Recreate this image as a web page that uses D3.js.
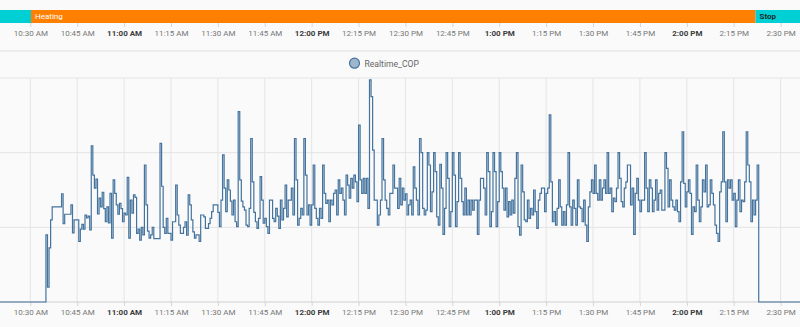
<!DOCTYPE html>
<html>
<head>
<meta charset="utf-8">
<script src="https://cdn.jsdelivr.net/npm/d3@7"></script>
<style>
  html, body { margin: 0; padding: 0; background: #fafafa; }
  svg { display: block; font-family: Roboto, "Noto Sans", sans-serif; }
</style>
</head>
<body>
<svg id="chart" width="800" height="327"></svg>
<script>
// Realtime COP readings, one every 30 seconds starting at copStart
const copStart = "10:20:00";
const copStepSeconds = 30;
const copValues = [
  0, 0, 0, 0, 0, 0, 0, 0, 0, 0,
  0, 0, 0, 0, 0, 0, 0, 0, 0, 0,
  0, 0, 0, 0, 0, 0, 0, 0, 0, 0,
  1.8, 0.4, 1.45, 2.2, 2.55, 2.55, 2.55, 2.55, 2.55, 2.55,
  2.9, 2.1, 2.35, 2.35, 2.35, 2.35, 2.6, 1.85, 2.2, 2.2,
  2.2, 1.62, 1.95, 2.08, 1.95, 2.33, 2.25, 2.3, 1.93, 4.18,
  3.4, 3.05, 3.29, 2.36, 2.78, 2.55, 2.94, 2.5, 2.15, 2.55,
  2.12, 2.91, 1.71, 3.27, 2.91, 2.6, 2.35, 2.64, 2.5, 2.15,
  2.38, 2.33, 3.34, 1.71, 2.73, 2.38, 2.87, 2.8, 1.84, 1.95,
  1.66, 2.0, 1.8, 3.67, 2.6, 1.9, 1.71, 1.8, 2.0, 1.7,
  1.7, 1.7, 1.7, 4.25, 3.1, 2.0, 1.84, 2.24, 1.84, 1.84,
  1.66, 2.15, 2.15, 3.13, 2.33, 2.06, 1.84, 1.84, 2.0, 2.15,
  1.79, 2.87, 2.6, 2.2, 1.88, 1.71, 1.8, 1.8, 1.62, 2.33,
  2.33, 2.28, 1.97, 1.97, 2.1, 2.24, 2.42, 2.6, 2.6, 2.6,
  2.4, 2.02, 2.73, 3.94, 3.05, 2.42, 3.27, 3.0, 2.7, 2.33,
  2.73, 2.15, 2.02, 5.1, 3.27, 2.7, 2.55, 2.46, 2.06, 2.02,
  2.51, 4.38, 3.22, 2.4, 2.15, 1.97, 2.24, 3.36, 2.73, 2.11,
  2.24, 2.02, 1.84, 2.73, 2.73, 2.24, 2.15, 2.51, 2.3, 1.97,
  2.73, 2.2, 2.51, 3.13, 2.28, 2.73, 2.73, 3.05, 2.33, 4.38,
  3.27, 2.06, 2.24, 2.51, 2.33, 4.38, 3.4, 2.33, 2.6, 2.06,
  2.6, 3.67, 2.51, 2.24, 2.06, 2.51, 2.24, 3.67, 2.91, 2.64,
  2.73, 2.15, 2.73, 2.6, 2.91, 3.0, 2.33, 3.27, 2.91, 3.05,
  2.73, 2.33, 3.4, 3.13, 2.78, 3.31, 3.05, 3.4, 3.22, 2.69,
  4.74, 3.27, 2.91, 3.31, 2.91, 3.31, 2.51, 5.95, 5.5, 4.07,
  2.73, 2.73, 2.06, 2.33, 2.73, 4.38, 3.27, 2.73, 2.51, 2.33,
  2.91, 2.91, 3.67, 3.05, 3.05, 2.51, 3.31, 2.6, 3.05, 2.73,
  2.9, 2.33, 2.6, 2.73, 2.33, 3.62, 3.05, 2.73, 2.33, 4.38,
  4.0, 2.51, 2.33, 2.46, 4.0, 3.67, 2.42, 2.95, 4.0, 3.49,
  2.28, 2.06, 3.69, 3.05, 1.81, 2.51, 4.0, 3.31, 2.02, 2.42,
  4.0, 3.4, 2.02, 2.69, 4.0, 3.31, 2.69, 2.33, 3.05, 2.33,
  2.73, 2.33, 2.73, 2.46, 2.73, 2.73, 1.81, 2.73, 3.31, 3.31,
  3.05, 2.33, 4.0, 3.49, 2.02, 2.42, 4.0, 3.49, 2.02, 2.69,
  4.0, 3.49, 3.05, 2.46, 3.05, 2.28, 2.69, 2.33, 2.73, 2.38,
  3.31, 4.0, 2.02, 1.79, 3.67, 2.95, 2.2, 2.15, 2.73, 2.24,
  2.51, 2.33, 3.0, 2.42, 1.97, 2.73, 2.91, 3.05, 3.05, 2.42,
  2.91, 3.05, 5.01, 3.22, 2.15, 2.42, 2.06, 2.51, 3.27, 2.55,
  2.06, 2.42, 2.06, 2.6, 4.0, 2.55, 2.06, 2.73, 2.51, 2.06,
  3.27, 2.55, 2.51, 2.15, 2.73, 2.06, 1.62, 2.55, 2.95, 3.27,
  2.91, 3.67, 2.91, 2.73, 3.27, 2.73, 3.05, 3.27, 2.91, 4.0,
  2.91, 3.05, 2.42, 2.78, 2.69, 3.05, 4.0, 3.31, 2.69, 2.55,
  3.05, 3.22, 3.67, 3.67, 2.6, 3.05, 1.81, 2.91, 3.31, 2.73,
  2.42, 2.73, 2.73, 4.0, 3.05, 2.42, 3.27, 3.05, 2.42, 2.73,
  3.27, 2.46, 2.91, 3.0, 2.46, 2.46, 4.0, 3.58, 2.55, 3.27,
  2.73, 2.55, 2.46, 2.73, 2.42, 2.15, 3.22, 4.56, 3.18, 2.55,
  2.95, 3.27, 2.91, 1.81, 2.55, 2.42, 3.67, 2.73, 2.15, 2.55,
  3.27, 2.95, 3.67, 2.55, 2.6, 3.27, 2.91, 2.6, 2.06, 1.84,
  1.62, 2.95, 3.22, 4.56, 3.22, 2.15, 3.27, 3.05, 3.27, 2.73,
  2.91, 2.02, 2.73, 3.27, 2.42, 2.73, 2.69, 3.22, 4.56, 3.67,
  3.22, 2.15, 2.73, 2.33, 2.73, 3.67, 0, 0, 0, 0,
  0, 0, 0, 0, 0, 0, 0, 0, 0, 0,
  0, 0, 0, 0, 0, 0, 0, 0, 0, 0,
  0, 0, 0, 0, 0, 0
];
const seriesName = "Realtime_COP";

// Operating state timeline
const stateNames  = ["Stop", "Heating", "Stop"];
const stateStarts = ["10:15:00", "10:30:13", "14:22:00"];
const stateEnd    = "14:40:00";

const yTicks = [0, 2, 4, 6];

// ---- helpers / styling ----
const day = [2024, 0, 15];
function at(hms) {
  const [h, m, s = 0] = hms.split(":").map(Number);
  return new Date(day[0], day[1], day[2], h, m, s);
}
const stateFill = { Heating: "#ff8000", Stop: "#00cfd3" };
const stateText = { Heating: "#ffffff", Stop: "#1b2b2b" };
const lineColor = "#44739e";

const W = 800, H = 327;
const svg = d3.select("#chart");
svg.append("rect").attr("width", W).attr("height", H).attr("fill", "#fafafa");

const x = d3.scaleTime().domain([at("10:30"), at("14:30")]).range([30.3, 780.6]);
const y = d3.scaleLinear().domain([0, 6]).range([302, 78]);

const tickEvery = d3.timeMinute.every(15);
const fmt = d3.timeFormat("%-I:%M %p");
const isHour = d => d.getMinutes() === 0;

// ---- timeline band ----
const states = stateNames.map((name, i) => ({
  name,
  start: at(stateStarts[i]),
  end: at(i + 1 < stateStarts.length ? stateStarts[i + 1] : stateEnd)
}));
const visibleWidth = d => Math.min(W, x(d.end)) - Math.max(0, x(d.start));
const band = svg.append("g");
band.selectAll("rect").data(states).join("rect")
  .attr("x", d => x(d.start))
  .attr("width", d => x(d.end) - x(d.start))
  .attr("y", 10).attr("height", 13)
  .attr("fill", d => stateFill[d.name]);
band.selectAll("text").data(states.filter(d => visibleWidth(d) > 36)).join("text")
  .attr("x", d => Math.max(0, x(d.start)) + 4)
  .attr("y", 16.8)
  .attr("dominant-baseline", "central")
  .attr("font-size", 8)
  .attr("font-weight", d => d.name === "Stop" ? 700 : 400)
  .attr("fill", d => stateText[d.name])
  .text(d => d.name);

// ---- time axes ----
function styleAxis(g) {
  g.select(".domain").remove();
  g.selectAll(".tick line").attr("stroke", "#d6d6d6");
  g.selectAll(".tick text")
    .attr("font-family", "Roboto, 'Noto Sans', sans-serif")
    .attr("font-size", 8)
    .attr("font-weight", d => isHour(d) ? 700 : 400)
    .attr("fill", d => isHour(d) ? "#3a3a3a" : "#777777");
}
const axis = d3.axisBottom(x).ticks(tickEvery).tickFormat(fmt).tickSize(4).tickPadding(3.5);
svg.append("g").attr("transform", "translate(0,23)").call(axis).call(styleAxis);

// separator between the timeline card and the graph
svg.append("line").attr("x1", 0).attr("x2", W).attr("y1", 51).attr("y2", 51)
  .attr("stroke", "#dedede").attr("stroke-width", 1.2);

// ---- legend ----
const legend = svg.append("g");
legend.append("circle").attr("cx", 354.5).attr("cy", 63.2).attr("r", 5)
  .attr("fill", lineColor).attr("fill-opacity", 0.5)
  .attr("stroke", lineColor).attr("stroke-width", 1.2);
legend.append("text").attr("x", 364.5).attr("y", 63.5)
  .attr("dominant-baseline", "central")
  .attr("font-size", 8.6).attr("fill", "#666")
  .text(seriesName);

// ---- grid ----
const grid = svg.append("g");
grid.selectAll("line.h").data(yTicks.filter(v => v > 0)).join("line")
  .attr("class", "h")
  .attr("x1", 0).attr("x2", W)
  .attr("y1", d => y(d)).attr("y2", d => y(d))
  .attr("stroke", "#e4e4e4");
grid.selectAll("line.v").data(x.ticks(tickEvery)).join("line")
  .attr("class", "v")
  .attr("x1", d => x(d)).attr("x2", d => x(d))
  .attr("y1", y(6)).attr("y2", y(0))
  .attr("stroke", "#e4e4e4");

svg.append("g").attr("transform", `translate(0,${y(0)})`)
  .call(axis).call(styleAxis);
svg.append("line").attr("x1", 0).attr("x2", W).attr("y1", y(0)).attr("y2", y(0))
  .attr("stroke", "#cfcfcf");

// ---- COP series ----
const t0 = at(copStart);
const points = copValues.map((v, i) => ({ t: d3.timeSecond.offset(t0, i * copStepSeconds), v }));
const line = d3.line().x(d => x(d.t)).y(d => y(d.v)).curve(d3.curveStepAfter);
svg.append("path").datum(points)
  .attr("d", line)
  .attr("fill", "none")
  .attr("stroke", lineColor)
  .attr("stroke-width", 1.2)
  .attr("stroke-linejoin", "miter");
</script>
</body>
</html>
